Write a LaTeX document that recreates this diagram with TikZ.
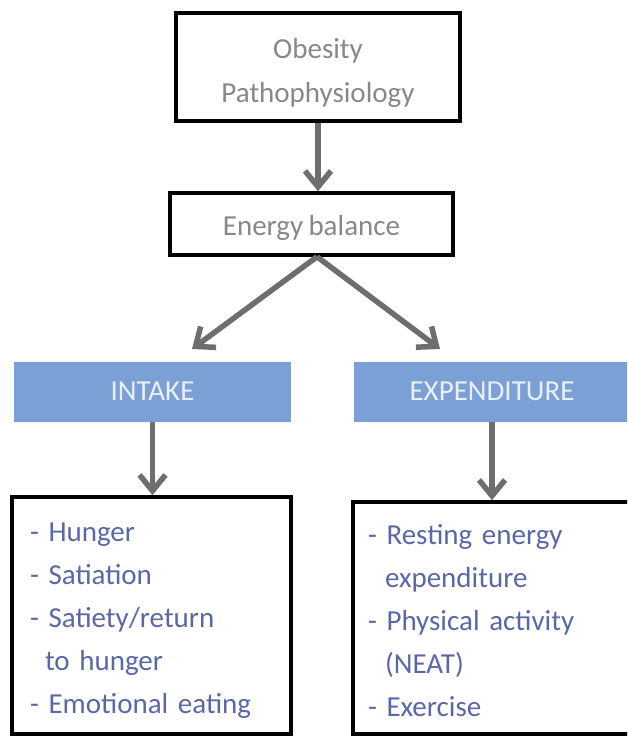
\documentclass[tikz,border=0pt]{standalone}
\usepackage{fontspec}
\setmainfont{Carlito}[WordSpace=0.8]
\usetikzlibrary{arrows.meta}
\definecolor{txtgray}{HTML}{888888}
\definecolor{listblue}{HTML}{5A68A8}
\definecolor{barblue}{HTML}{7BA0D6}
\definecolor{bartxt}{HTML}{EAF0FA}
\definecolor{arrgray}{HTML}{6E6E6E}
\begin{document}
\begin{tikzpicture}[x=1pt,y=-1pt,
  topbox/.style={draw=black, line width=3.5pt, fill=white, text=txtgray,
    font=\fontsize{29}{44}\selectfont, align=center, inner sep=0pt},
  barbox/.style={fill=barblue, text=bartxt, font=\fontsize{29}{35}\selectfont,
    inner sep=0pt, minimum height=60pt},
  listbox/.style={draw=black, line width=3.5pt, text=listblue,
    font=\fontsize{29}{43}\selectfont, align=left, inner ysep=0pt},
  arr/.style={draw=arrgray, line width=5.5pt,
    -{Straight Barb[length=16pt,width=26pt,line width=5.5pt]}}
]
\useasboundingbox (0,0) rectangle (627,738);
\clip (0,0) rectangle (627,738);
\fill[white] (0,0) rectangle (627,738);

\node[topbox, minimum width=284pt, minimum height=108pt] (obes) at (318,67)
  {\rule{0pt}{31pt}Obesity\\Pathophysiology};
\node[topbox, minimum width=283pt, minimum height=62pt] (enb) at (311.5,224)
  {\rule{0pt}{27pt}Energy balance};

\node[barbox, minimum width=277pt] (intake) at (152.5,391.5) {INTAKE};
\node[barbox, minimum width=276pt] (expend) at (492,391.5) {EXPENDITURE};

\node[listbox, minimum width=279pt, minimum height=237pt, inner xsep=18pt,
  text width=243pt] (lbox) at (151.5,615.5)
  {\rule{0pt}{29pt}- Hunger\\- Satiation\\- Satiety/return\\\hspace*{15pt}to hunger\\- Emotional eating};
\node[listbox, minimum width=279pt, minimum height=232pt, inner xsep=15pt,
  text width=249pt] (rbox) at (492.5,618)
  {\rule{0pt}{26pt}- Resting energy\\\hspace*{17pt}expenditure\\- Physical activity\\\hspace*{17pt}(NEAT)\\- Exercise};

\coordinate (split) at ([xshift=5.5pt]enb.south);
\coordinate (tipL) at (192,349);
\coordinate (tipR) at (440,349);

\draw[arr] (obes.south) -- (obes.south |- enb.north);
\draw[arr] (split) -- (tipL);
\draw[arr] (split) -- (tipR);
\draw[arr] (intake.south) -- (intake.south |- lbox.north);
\draw[arr] (expend.south) -- (expend.south |- rbox.north);
\end{tikzpicture}
\end{document}
